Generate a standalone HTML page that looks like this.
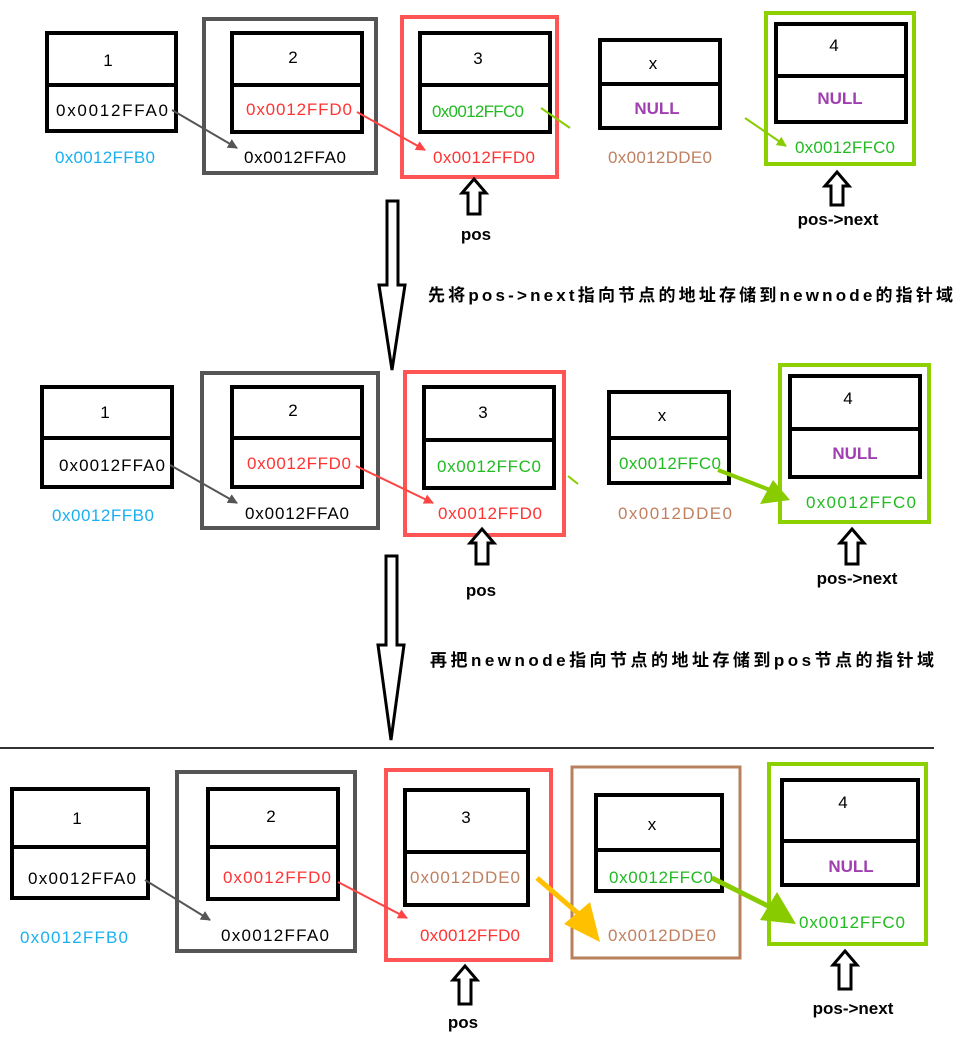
<!DOCTYPE html>
<html><head><meta charset="utf-8"><style>
html,body{margin:0;padding:0;background:#fff;}
svg{display:block;}
text{font-family:"Liberation Sans","Noto Sans CJK SC",sans-serif;font-size:17px;text-anchor:middle;}
.b{font-weight:bold;}
</style></head><body>
<svg width="954" height="1064" viewBox="0 0 954 1064" xmlns="http://www.w3.org/2000/svg">
<defs>
<marker id="ag" markerWidth="10" markerHeight="10" refX="9" refY="5" orient="auto" markerUnits="userSpaceOnUse"><path d="M0,0 L10,5 L0,10 z" fill="#555"/></marker>
<marker id="ar" markerWidth="10" markerHeight="10" refX="9" refY="5" orient="auto" markerUnits="userSpaceOnUse"><path d="M0,0 L10,5 L0,10 z" fill="#f44"/></marker>
<marker id="agr" markerWidth="10" markerHeight="10" refX="9" refY="5" orient="auto" markerUnits="userSpaceOnUse"><path d="M0,0 L10,5 L0,10 z" fill="#8c0"/></marker>
</defs>
<g fill="none" stroke="#000" stroke-width="4">
<!-- row1 -->
<rect x="47" y="33" width="129" height="98"/><line x1="47" y1="85" x2="178" y2="85"/>
<rect x="232" y="33" width="130" height="99"/><line x1="232" y1="85" x2="362" y2="85"/>
<rect x="420" y="33" width="130" height="99"/><line x1="420" y1="85" x2="552" y2="85"/>
<rect x="600" y="40" width="120" height="88"/><line x1="598" y1="84" x2="720" y2="84"/>
<rect x="776" y="24" width="130" height="98"/><line x1="776" y1="76" x2="908" y2="76"/>
<!-- row2 -->
<rect x="42" y="387" width="130" height="100"/><line x1="42" y1="438" x2="172" y2="438"/>
<rect x="232" y="387" width="130" height="100"/><line x1="232" y1="438" x2="362" y2="438"/>
<rect x="424" y="387" width="130" height="101"/><line x1="424" y1="440" x2="554" y2="440"/>
<rect x="609" y="392" width="120" height="91"/><line x1="609" y1="438" x2="729" y2="438"/>
<rect x="790" y="376" width="130" height="101"/><line x1="790" y1="429" x2="920" y2="429"/>
<!-- row3 -->
<rect x="12" y="789" width="136" height="109"/><line x1="12" y1="847" x2="148" y2="847"/>
<rect x="208" y="789" width="130" height="110"/><line x1="208" y1="847" x2="338" y2="847"/>
<rect x="405" y="790" width="123" height="115"/><line x1="405" y1="852" x2="528" y2="852"/>
<rect x="596" y="795" width="126" height="96"/><line x1="594" y1="850" x2="722" y2="850"/>
<rect x="782" y="780" width="136" height="105"/><line x1="782" y1="841" x2="918" y2="841"/>
</g>
<!-- frames -->
<g fill="none" stroke-width="4">
<rect x="204" y="19" width="172" height="154" stroke="#555"/>
<rect x="402" y="17" width="155" height="160" stroke="#f55"/>
<rect x="766" y="13" width="148" height="151" stroke="#8cd000"/>
<rect x="202" y="373" width="176" height="155" stroke="#555"/>
<rect x="405" y="372" width="159" height="163" stroke="#f55"/>
<rect x="780" y="365" width="149" height="157" stroke="#8cd000"/>
<rect x="177" y="772" width="178" height="179" stroke="#555"/>
<rect x="386" y="770" width="165" height="190" stroke="#f55"/>
<rect x="572" y="767" width="168" height="191" stroke="#b8805c" stroke-width="3"/>
<rect x="769" y="764" width="157" height="180" stroke="#8cd000"/>
</g>
<line x1="0" y1="748" x2="934" y2="748" stroke="#333" stroke-width="2"/>
<!-- thin arrows -->
<g stroke-width="2">
<line x1="172" y1="110" x2="237" y2="148" stroke="#555" marker-end="url(#ag)"/>
<line x1="357" y1="112" x2="425" y2="150" stroke="#f44" marker-end="url(#ar)"/>
<line x1="541" y1="108" x2="570" y2="128" stroke="#8c0"/>
<line x1="745" y1="118" x2="786" y2="146" stroke="#8c0" marker-end="url(#agr)"/>
<line x1="170" y1="465" x2="237" y2="503" stroke="#555" marker-end="url(#ag)"/>
<line x1="356" y1="466" x2="433" y2="503" stroke="#f44" marker-end="url(#ar)"/>
<line x1="568" y1="476" x2="578" y2="484" stroke="#8c0"/>
<line x1="145" y1="880" x2="210" y2="920" stroke="#555" marker-end="url(#ag)"/>
<line x1="338" y1="882" x2="407" y2="918" stroke="#f44" marker-end="url(#ar)"/>
</g>
<!-- fat arrows -->
<line x1="718" y1="470" x2="770" y2="490" stroke="#8c0" stroke-width="4"/>
<polygon points="790,500 760,504 773,480" fill="#8c0"/>
<line x1="537" y1="878" x2="580" y2="915" stroke="#ffc000" stroke-width="5"/>
<polygon points="600,942 564,924 590,902" fill="#ffc000"/>
<line x1="712" y1="878" x2="772" y2="908" stroke="#8c0" stroke-width="5"/>
<polygon points="796,924 760,920 777,892" fill="#8c0"/>
<!-- hollow up arrows -->
<g fill="#fff" stroke="#000" stroke-width="3">
<polygon points="474,179 486,193 480,193 480,214 468,214 468,193 462,193"/>
<polygon points="837,172 849,186 843,186 843,205 831,205 831,186 825,186"/>
<polygon points="482,529 494,543 488,543 488,564 476,564 476,543 470,543"/>
<polygon points="852,529 864,543 858,543 858,564 846,564 846,543 840,543"/>
<polygon points="465,966 477,980 471,980 471,1004 459,1004 459,980 453,980"/>
<polygon points="845,951 857,965 851,965 851,989 839,989 839,965 833,965"/>
<!-- big down arrows -->
<polygon points="387,201 398,201 398,285 405,285 392,370 379,285 387,285"/>
<polygon points="386,556 397,556 397,645 404,645 391,740 378,645 386,645"/>
</g>
<!-- text -->
<g>
<text x="108" y="66">1</text>
<text x="112" y="116" textLength="112">0x0012FFA0</text>
<text x="105" y="163" fill="#1ab0f0" textLength="100">0x0012FFB0</text>
<text x="293" y="63">2</text>
<text x="299" y="115" fill="#f33" textLength="106">0x0012FFD0</text>
<text x="295" y="163" textLength="102">0x0012FFA0</text>
<text x="478" y="64">3</text>
<text x="478" y="117" fill="#2b2" textLength="92">0x0012FFC0</text>
<text x="484" y="163" fill="#f33" textLength="102">0x0012FFD0</text>
<text x="653" y="69">x</text>
<text x="657" y="114" fill="#a040b0" class="b">NULL</text>
<text x="660" y="163" fill="#c08060" textLength="104">0x0012DDE0</text>
<text x="834" y="51">4</text>
<text x="840" y="104" fill="#a040b0" class="b">NULL</text>
<text x="845" y="153" fill="#2b2" textLength="100">0x0012FFC0</text>
<text x="476" y="240" class="b">pos</text>
<text x="838" y="225" class="b">pos-&gt;next</text>
<text x="428" y="301" style="text-anchor:start" class="b" textLength="525">先将pos-&gt;next指向节点的地址存储到newnode的指针域</text>

<text x="105" y="418">1</text>
<text x="112" y="471" textLength="106">0x0012FFA0</text>
<text x="103" y="521" fill="#1ab0f0" textLength="102">0x0012FFB0</text>
<text x="293" y="416">2</text>
<text x="299" y="469" fill="#f33" textLength="104">0x0012FFD0</text>
<text x="297" y="519" textLength="104">0x0012FFA0</text>
<text x="483" y="418">3</text>
<text x="489" y="472" fill="#2b2" textLength="104">0x0012FFC0</text>
<text x="490" y="519" fill="#f33" textLength="104">0x0012FFD0</text>
<text x="662" y="421">x</text>
<text x="670" y="469" fill="#2b2" textLength="102">0x0012FFC0</text>
<text x="675" y="519" fill="#c08060" textLength="114">0x0012DDE0</text>
<text x="848" y="404">4</text>
<text x="855" y="459" fill="#a040b0" class="b">NULL</text>
<text x="861" y="508" fill="#2b2" textLength="110">0x0012FFC0</text>
<text x="481" y="596" class="b">pos</text>
<text x="857" y="584" class="b">pos-&gt;next</text>
<text x="430" y="666" style="text-anchor:start" class="b" textLength="504">再把newnode指向节点的地址存储到pos节点的指针域</text>

<text x="77" y="824">1</text>
<text x="82" y="884" textLength="108">0x0012FFA0</text>
<text x="74" y="943" fill="#1ab0f0" textLength="108">0x0012FFB0</text>
<text x="271" y="822">2</text>
<text x="277" y="883" fill="#f33" textLength="108">0x0012FFD0</text>
<text x="275" y="941" textLength="108">0x0012FFA0</text>
<text x="466" y="823">3</text>
<text x="465" y="883" fill="#c08060" textLength="110">0x0012DDE0</text>
<text x="470" y="941" fill="#f33" textLength="100">0x0012FFD0</text>
<text x="652" y="830">x</text>
<text x="661" y="883" fill="#2b2" textLength="104">0x0012FFC0</text>
<text x="662" y="941" fill="#c08060" textLength="108">0x0012DDE0</text>
<text x="843" y="808">4</text>
<text x="851" y="872" fill="#a040b0" class="b">NULL</text>
<text x="852" y="928" fill="#2b2" textLength="106">0x0012FFC0</text>
<text x="463" y="1028" class="b">pos</text>
<text x="853" y="1014" class="b">pos-&gt;next</text>
</g>
</svg>
</body></html>
